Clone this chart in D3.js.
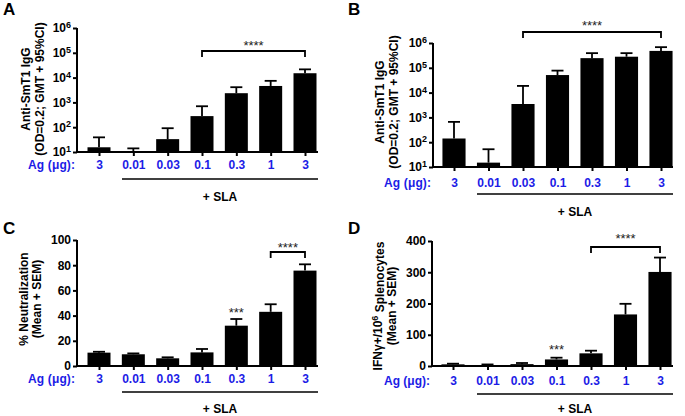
<!DOCTYPE html>
<html>
<head>
<meta charset="utf-8">
<script src="https://cdn.jsdelivr.net/npm/d3@7"></script>
<style>
  html, body { margin: 0; padding: 0; background: #fff; }
  svg { display: block; font-family: "Liberation Sans", Arial, sans-serif; }
</style>
</head>
<body>
<svg id="chart" width="685" height="416"></svg>
<script>
// ---------------- DATA ----------------
const categories = ["3", "0.01", "0.03", "0.1", "0.3", "1", "3"];
const agLabel = "Ag (\u03bcg):";
const slaLabel = "+ SLA";

// Panel A: anti-SmT1 IgG GMT + upper 95% CI
const igGA = [15.5, 10.3, 33, 280, 2350, 4600, 15000];
const igGAUpper = [39, 14, 91, 700, 4100, 7400, 21500];
// Panel B
const igGB = [141, 15, 3470, 51000, 245000, 280000, 480000];
const igGBUpper = [660, 52, 18600, 77000, 390000, 390000, 680000];
// Panel C: % neutralization mean + SEM
const neutC = [10.6, 9.3, 6.1, 10.8, 32, 43, 75.7];
const neutCUpper = [11.3, 10, 6.9, 13.5, 37.3, 49, 80.7];
// Panel D: IFNg+ / 10^6 splenocytes mean + SEM
const ifnD = [5.3, 3, 6, 21, 40.5, 165, 301];
const ifnDUpper = [7.4, 5, 9.6, 26.6, 49, 199, 347];

const logTicks = [1e1, 1e2, 1e3, 1e4, 1e5, 1e6];
const neutTicks = [0, 20, 40, 60, 80, 100];
const ifnTicks = [0, 100, 200, 300, 400];

// ---------------- LAYOUT ----------------
const BLUE = "#1c1ce6";
const svg = d3.select("#chart");

const panels = [
  { letter: "A", lx: 3, ly: 15, values: igGA, upper: igGAUpper, log: true, ticks: logTicks, domain: [10, 1e6],
    left: 77, right: 318, top: 28, bottom: 152, c1: 99, c7: 305, labelY: 165,
    slaY: 179, slaX1: 122, slaX2: 318, slaTextY: 197, agW: 47,
    titles: ["Anti-SmT1 IgG", "(OD=0.2; GMT + 95%CI)"], tx: [26, 40], tcy: 89,
    bracket: { from: 3, to: 6, y: 51, leg: 6, starsY: 43, text: "****" }, single: null },
  { letter: "B", lx: 348, ly: 15, values: igGB, upper: igGBUpper, log: true, ticks: logTicks, domain: [10, 1e6],
    left: 433, right: 673, top: 43, bottom: 167, c1: 454, c7: 661, labelY: 183,
    slaY: 194, slaX1: 477, slaX2: 673, slaTextY: 212, agW: 47,
    titles: ["Anti-SmT1 IgG", "(OD=0.2; GMT + 95%CI)"], tx: [380, 394], tcy: 102,
    bracket: { from: 2, to: 6, y: 32, leg: 6, starsY: 23, text: "****" }, single: null },
  { letter: "C", lx: 3, ly: 234, values: neutC, upper: neutCUpper, log: false, ticks: neutTicks, domain: [0, 100],
    left: 77, right: 318, top: 240, bottom: 366, c1: 99, c7: 305, labelY: 379,
    slaY: 392, slaX1: 122, slaX2: 318, slaTextY: 409, agW: 47,
    titles: ["% Neutralization", "(Mean + SEM)"], tx: [24, 37], tcy: 299,
    bracket: { from: 5, to: 6, y: 252, leg: 6, starsY: 245, text: "****" }, single: { idx: 4, y: 310, text: "***" } },
  { letter: "D", lx: 348, ly: 234, values: ifnD, upper: ifnDUpper, log: false, ticks: ifnTicks, domain: [0, 400],
    left: 432, right: 673, top: 241, bottom: 366, c1: 453, c7: 660, labelY: 381,
    slaY: 394, slaX1: 477, slaX2: 673, slaTextY: 409, agW: 46,
    titles: ["IFN\u03b3+/10", "(Mean + SEM)"], tx: [378, 392], tcy: 306,
    bracket: { from: 4, to: 6, y: 247, leg: 6, starsY: 236, text: "****" }, single: { idx: 3, y: 347, text: "***" } }
];

const FS = 12;   // tick / label font size

panels.forEach(p => {
  const g = svg.append("g");
  const x = d3.scalePoint().domain(d3.range(categories.length)).range([p.c1, p.c7]);
  const bw = x.step() * 0.67;
  const y = (p.log ? d3.scaleLog() : d3.scaleLinear()).domain(p.domain).range([p.bottom, p.top]);

  // bars
  g.selectAll("rect.bar").data(p.values).join("rect")
    .attr("x", (d, i) => x(i) - bw / 2)
    .attr("y", d => y(d))
    .attr("width", bw)
    .attr("height", d => p.bottom - y(d))
    .attr("fill", "#000");

  // error bars (upper only)
  const capW = 12;
  g.selectAll("line.err").data(p.upper).join("line")
    .attr("x1", (d, i) => x(i)).attr("x2", (d, i) => x(i))
    .attr("y1", (d, i) => y(p.values[i])).attr("y2", d => y(d))
    .attr("stroke", "#000").attr("stroke-width", 1.8);
  g.selectAll("line.cap").data(p.upper).join("line")
    .attr("x1", (d, i) => x(i) - capW / 2).attr("x2", (d, i) => x(i) + capW / 2)
    .attr("y1", d => y(d)).attr("y2", d => y(d))
    .attr("stroke", "#000").attr("stroke-width", 1.8);

  // y axis
  const yAxis = (p.log ? d3.axisLeft(y).tickValues(p.ticks).tickFormat(() => "10")
                       : d3.axisLeft(y).tickValues(p.ticks).tickFormat(d3.format("d")))
    .tickSize(4).tickSizeOuter(0).tickPadding(2);
  const ya = g.append("g").attr("transform", `translate(${p.left},0)`).call(yAxis);
  ya.select(".domain").attr("stroke-width", 2).attr("d", `M0,${p.bottom + 1}V${p.top}`);
  ya.selectAll(".tick line").attr("stroke-width", 2);
  ya.selectAll(".tick text").attr("font-size", FS).attr("font-weight", "bold")
    .attr("font-family", "Liberation Sans, Arial, sans-serif").attr("fill", "#000");
  if (p.log) {
    ya.selectAll(".tick text").each(function (d) {
      d3.select(this).append("tspan").attr("dy", "-0.45em").attr("font-size", 9)
        .text(Math.round(Math.log10(d)));
    });
  }

  // x axis baseline
  g.append("line").attr("x1", p.left - 1).attr("x2", p.right)
    .attr("y1", p.bottom).attr("y2", p.bottom)
    .attr("stroke", "#000").attr("stroke-width", 2);
  const pad = p.labelY - 0.35 * FS - p.bottom - 4;
  const xAxis = d3.axisBottom(x).tickSize(4).tickPadding(pad).tickFormat(i => categories[i]);
  const xa = g.append("g").attr("transform", `translate(0,${p.bottom})`).call(xAxis);
  xa.select(".domain").remove();
  xa.selectAll(".tick line").attr("stroke-width", 2);
  xa.selectAll(".tick text").attr("font-size", FS).attr("font-weight", "bold")
    .attr("font-family", "Liberation Sans, Arial, sans-serif").attr("fill", BLUE);

  // Ag label
  g.append("text").attr("x", p.left - 2).attr("y", p.labelY).attr("dy", "0.35em")
    .attr("text-anchor", "end").attr("font-size", FS).attr("font-weight", "bold")
    .attr("textLength", p.agW).attr("lengthAdjust", "spacing")
    .attr("fill", BLUE).text(agLabel);

  // SLA line and label
  g.append("line").attr("x1", p.slaX1).attr("x2", p.slaX2).attr("y1", p.slaY).attr("y2", p.slaY)
    .attr("stroke", "#000").attr("stroke-width", 1.5);
  g.append("text").attr("x", (p.slaX1 + p.slaX2) / 2).attr("y", p.slaTextY).attr("dy", "0.35em")
    .attr("text-anchor", "middle").attr("font-size", FS).attr("font-weight", "bold").text(slaLabel);

  // y titles
  p.titles.forEach((t, k) => {
    const tt = g.append("text")
      .attr("transform", `translate(${p.tx[k]},${p.tcy}) rotate(-90)`)
      .attr("dy", "0.35em").attr("text-anchor", "middle")
      .attr("font-size", FS).attr("font-weight", "bold").text(t);
    if (p.letter === "D" && k === 0) {
      tt.append("tspan").attr("dy", "-0.45em").attr("font-size", 9).text("6");
      tt.append("tspan").attr("dy", "0.45em").text(" Splenocytes");
    }
  });

  // significance bracket
  const b = p.bracket;
  g.append("path")
    .attr("d", `M${x(b.from)},${b.y + b.leg}V${b.y}H${x(b.to)}V${b.y + b.leg}`)
    .attr("fill", "none").attr("stroke", "#000").attr("stroke-width", 1.8);
  g.append("text").attr("x", (x(b.from) + x(b.to)) / 2).attr("y", b.starsY + 7)
    .attr("text-anchor", "middle").attr("font-size", 13).attr("fill", "#222").text(b.text);
  if (p.single) {
    g.append("text").attr("x", x(p.single.idx)).attr("y", p.single.y + 7)
      .attr("text-anchor", "middle").attr("font-size", 13).attr("fill", "#222").text(p.single.text);
  }

  // panel letter
  g.append("text").attr("x", p.lx).attr("y", p.ly).attr("font-size", 17).attr("font-weight", "bold")
    .text(p.letter);
});
</script>
</body>
</html>
